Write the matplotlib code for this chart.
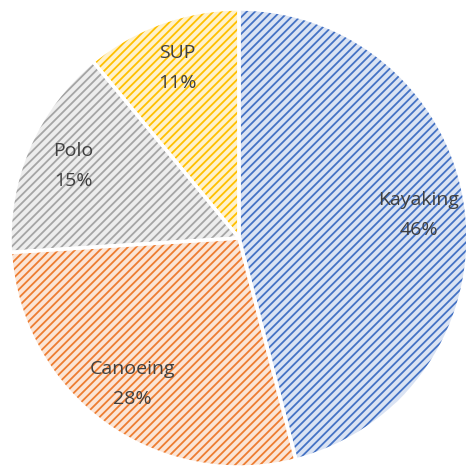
import matplotlib
matplotlib.use("Agg")
import matplotlib.pyplot as plt

sports = ["Kayaking", "Canoeing", "Polo", "SUP"]
shares = [46, 28, 15, 11]

face_colors = ["#dae3f3", "#fbe5d6", "#ededed", "#fff2cc"]
hatch_colors = ["#4472c4", "#ed7d31", "#a5a5a5", "#ffc000"]

plt.rcParams['hatch.linewidth'] = 1.3
plt.rcParams['font.family'] = ['Open Sans', 'DejaVu Sans']

W, H = 466, 468
fig = plt.figure(figsize=(W / 100, H / 100), dpi=100)
cx, cy, r = 239, 468 - 238, 229
ax = fig.add_axes([(cx - r) / W, (cy - r) / H, 2 * r / W, 2 * r / H])

labels = [f"{s}\n{v}%" for s, v in zip(sports, shares)]

# hatched fill
wedges, texts = ax.pie(shares, startangle=90, counterclock=False,
                       colors=face_colors, labels=labels, labeldistance=0.79,
                       wedgeprops=dict(linewidth=0),
                       textprops=dict(color="#404040", fontsize=14, ha="center",
                                      va="center", linespacing=1.85))
for w, hc in zip(wedges, hatch_colors):
    w.set_hatch("////")
    w.set_edgecolor(hc)
    w.set_linewidth(0)

# white separators on top
ax.pie(shares, startangle=90, counterclock=False,
       wedgeprops=dict(facecolor="none", edgecolor="white", linewidth=2.5))

for t in texts:
    t.set_zorder(5)

ax.set_xlim(-1, 1)
ax.set_ylim(-1, 1)
ax.set_aspect("equal")
ax.axis("off")

fig.savefig("out.png", dpi=100)
